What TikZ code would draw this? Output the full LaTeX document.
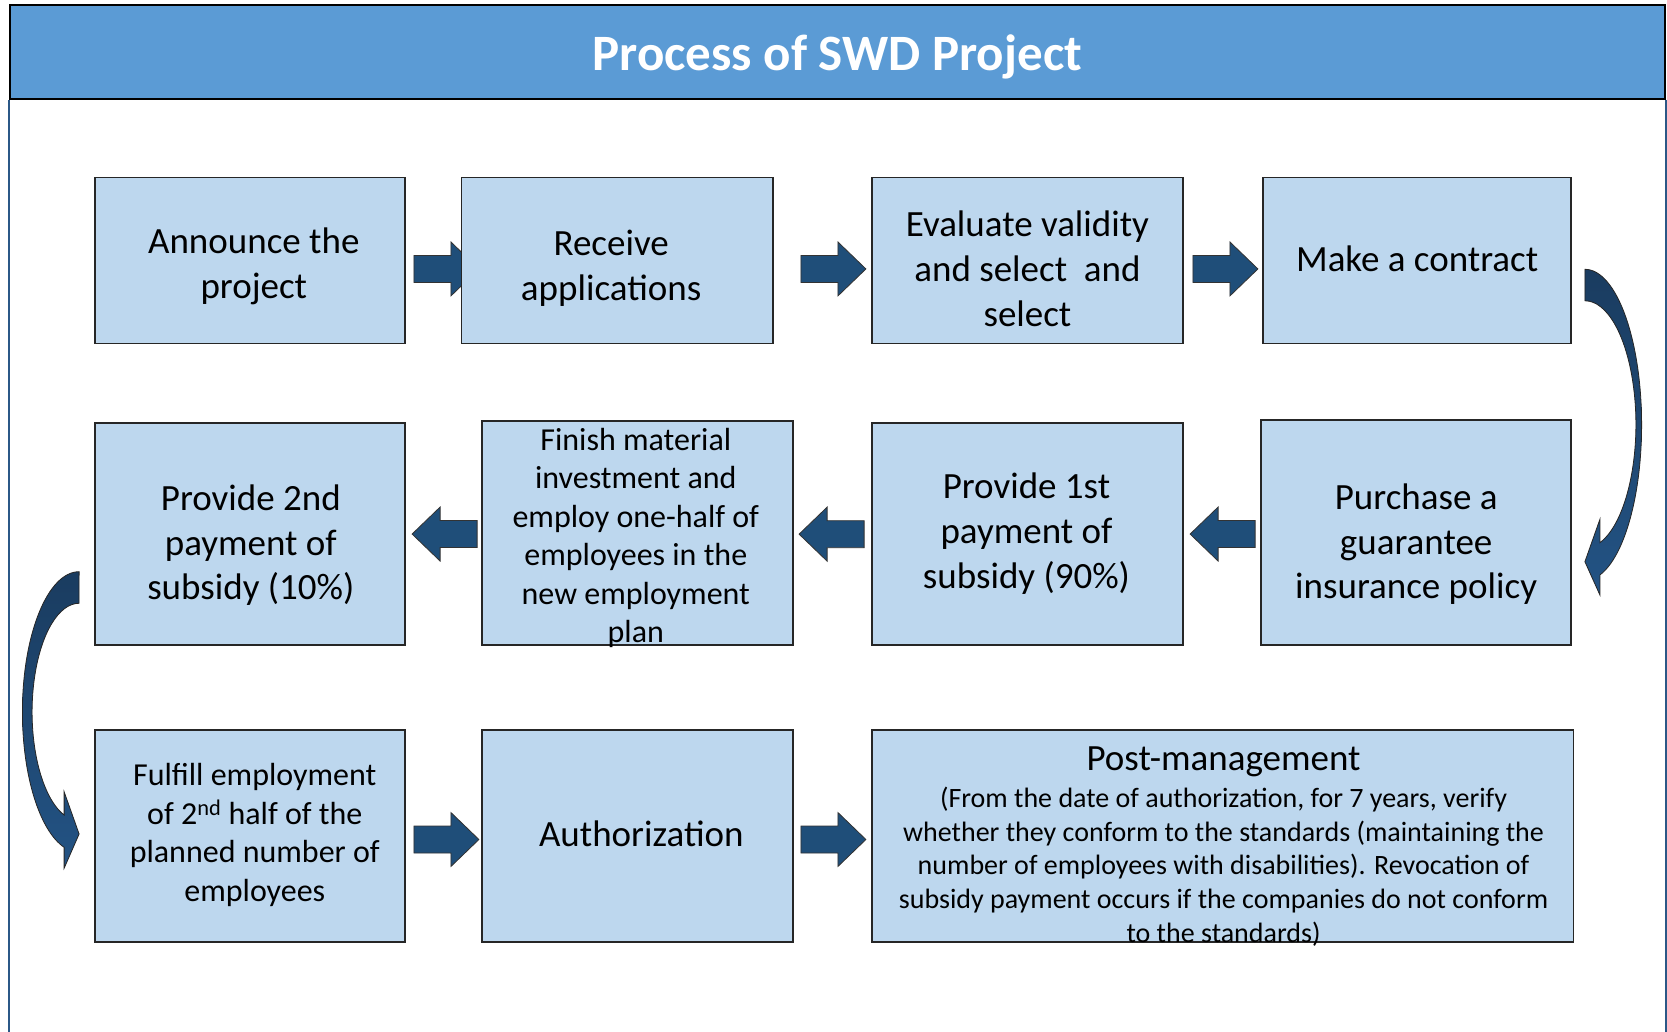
\documentclass[tikz,border=0pt]{standalone}
\usepackage{fontspec}
\setmainfont{Carlito}
\usetikzlibrary{calc,backgrounds}
\definecolor{boxfill}{HTML}{BDD7EE}
\definecolor{titlefill}{HTML}{5B9BD5}
\definecolor{arrowfill}{HTML}{1F4E79}
\definecolor{framecol}{HTML}{2B5887}
\definecolor{arrtop}{HTML}{1A3C60}
\definecolor{arrbot}{HTML}{235384}
\newcommand\blkR[1]{\filldraw[blk] #1 +(0,-13.5) -- +(37,-13.5) -- +(37,-27) -- +(65,0) -- +(37,27) -- +(37,13.5) -- +(0,13.5) -- cycle;}
\newcommand\blkL[1]{\filldraw[blk] #1 +(0,-13.5) -- +(-37,-13.5) -- +(-37,-27) -- +(-65,0) -- +(-37,27) -- +(-37,13.5) -- +(0,13.5) -- cycle;}
\begin{document}
\begin{tikzpicture}[x=1pt,y=-1pt,
  box/.style={rectangle,draw=black!85,line width=1.8pt,fill=boxfill,inner sep=0pt},
  txt/.style={align=center,inner sep=0pt,text=black,font=\fontsize{37}{44.7}\selectfont},
  txtm/.style={txt,font=\fontsize{32}{38.5}\selectfont},
  txts/.style={txt,font=\fontsize{28}{33.75}\selectfont},
  titlebar/.style={rectangle,draw=black,line width=2pt,fill=titlefill,inner sep=0pt},
  titletxt/.style={inner sep=0pt,text=white,font=\fontsize{51}{60}\selectfont\bfseries},
  frame/.style={draw=framecol,line width=2pt},
  blk/.style={fill=arrowfill,draw=black!80,line width=0.8pt,line join=miter},
  curv/.style={top color=arrtop,bottom color=arrbot,draw=black!85,line width=0.8pt,line join=miter}]
\useasboundingbox (0,0) rectangle (1667,1032);
% frame and title
\node[titlebar,minimum width=1655.4pt,minimum height=93.7pt] (bar) at (837.3,52.15) {};
\node[titletxt] (title) at ($(bar.center)+(0,5)$) {Process of SWD Project};
\draw[frame] (bar.south west) -- (bar.south west |- 0,1032);
\draw[frame] (bar.south east) -- (bar.south east |- 0,1032);
% row 1
\node[box,minimum width=310.4pt,minimum height=165.9pt] (b1) at (249.8,260.45) {};
\node[box,minimum width=311.5pt,minimum height=165.9pt] (b2) at (617.15,260.45) {};
\node[box,minimum width=311.5pt,minimum height=165.9pt] (b3) at (1027.45,260.45) {};
\node[box,minimum width=308.3pt,minimum height=165.9pt] (b4) at (1417.15,260.45) {};
% row 2
\node[box,minimum width=310.4pt,minimum height=222.3pt] (b5) at (249.8,534.15) {};
\node[box,minimum width=311.4pt,minimum height=224.3pt] (b6) at (637.3,533.15) {};
\node[box,minimum width=311.5pt,minimum height=222.3pt] (b7) at (1027.45,534.15) {};
\node[box,minimum width=310.3pt,minimum height=225.3pt] (b8) at (1416.15,532.65) {};
% row 3
\node[box,minimum width=310.4pt,minimum height=211.6pt] (b9) at (249.8,836.1) {};
\node[box,minimum width=311.4pt,minimum height=211.6pt] (b10) at (637.3,836.1) {};
\node[box,minimum width=701.7pt,minimum height=211.6pt] (b11) at (1222.55,836.1) {};
% texts
\node[txt] (t1) at ($(b1.center)+(4,6)$) {Announce the\\project};
\node[txt] (t2) at ($(b2.center)+(-6,8)$) {Receive\\applications};
\node[txt] (t3) at ($(b3.center)+(0,8.5)$) {Evaluate validity\\and select~ and\\select};
\node[txt] (t4) at ($(b4.center)+(0,-2)$) {Make a contract};
\node[txt] (t5) at ($(b5.center)+(1,11)$) {Provide 2nd\\payment of\\subsidy (10\%)};
\node[txtm] (t6) at ($(b6.center)+(-1.5,5)$) {Finish material\\investment and\\employ one-half of\\employees in the\\new employment\\plan};
\node[txt] (t7) at ($(b7.center)+(-1,-0.7)$) {Provide 1st\\payment of\\subsidy (90\%)};
\node[txt] (t8) at ($(b8.center)+(0,11.5)$) {Purchase a\\guarantee\\insurance policy};
\node[txtm] (t9) at ($(b9.center)+(5,-1)$) {Fulfill employment\\of 2\textsuperscript{nd} half of the\\planned number of\\employees};
\node[txt] (t10) at ($(b10.center)+(4,-2.6)$) {Authorization};
\node[txt] (t11) at ($(b11.center)+(1,-74)$) {Post-management};
\node[txts] (t11b) at ($(b11.center)+(1,30.5)$) {(From the date of authorization, for 7 years, verify\\whether they conform to the standards (maintaining the\\number of employees with disabilities). Revocation of\\subsidy payment occurs if the companies do not conform\\to the standards)};
% background: white page and block arrows
\begin{scope}[on background layer]
\fill[white] (0,0) rectangle (1667,1032);
\blkR{($(b1.east)+(8,8.5)$)}
\blkR{($(b2.east)+(27.1,8.5)$)}
\blkR{($(b3.east)+(8.8,8.5)$)}
\blkL{($(b8.west)+(-5,1.4)$)}
\blkL{($(b7.west)+(-6.7,0)$)}
\blkL{($(b6.west)+(-3.6,0.9)$)}
\blkR{($(b9.east)+(8,3.4)$)}
\blkR{($(b10.east)+(7,3.4)$)}
\end{scope}
% curved arrow b4 -> b8
\coordinate (r0) at ($(b4.east)+(12.7,8.85)$);
\draw[curv] (r0) arc[start angle=-90,end angle=74.66,x radius=56.7,y radius=155.6]
  -- ($(r0)+(15,325.7)$) -- ($(r0)+(0,292.4)$) -- ($(r0)+(15,250)$) -- ($(r0)+(15,273.4)$)
  arc[start angle=72.9,end angle=-90,x radius=51,y radius=123.7] -- cycle;
% curved arrow b5 -> b9
\coordinate (l0) at ($(b5.west)+(-14.6,37.55)$);
\draw[curv] (l0) arc[start angle=-90,end angle=-254.66,x radius=56.7,y radius=140.3]
  -- ($(l0)+(-15,296.6)$) -- ($(l0)+(0,262.3)$) -- ($(l0)+(-15,220)$) -- ($(l0)+(-15,243.3)$)
  arc[start angle=-251.4,end angle=-90,x radius=47,y radius=108.7] -- cycle;
\end{tikzpicture}
\end{document}
